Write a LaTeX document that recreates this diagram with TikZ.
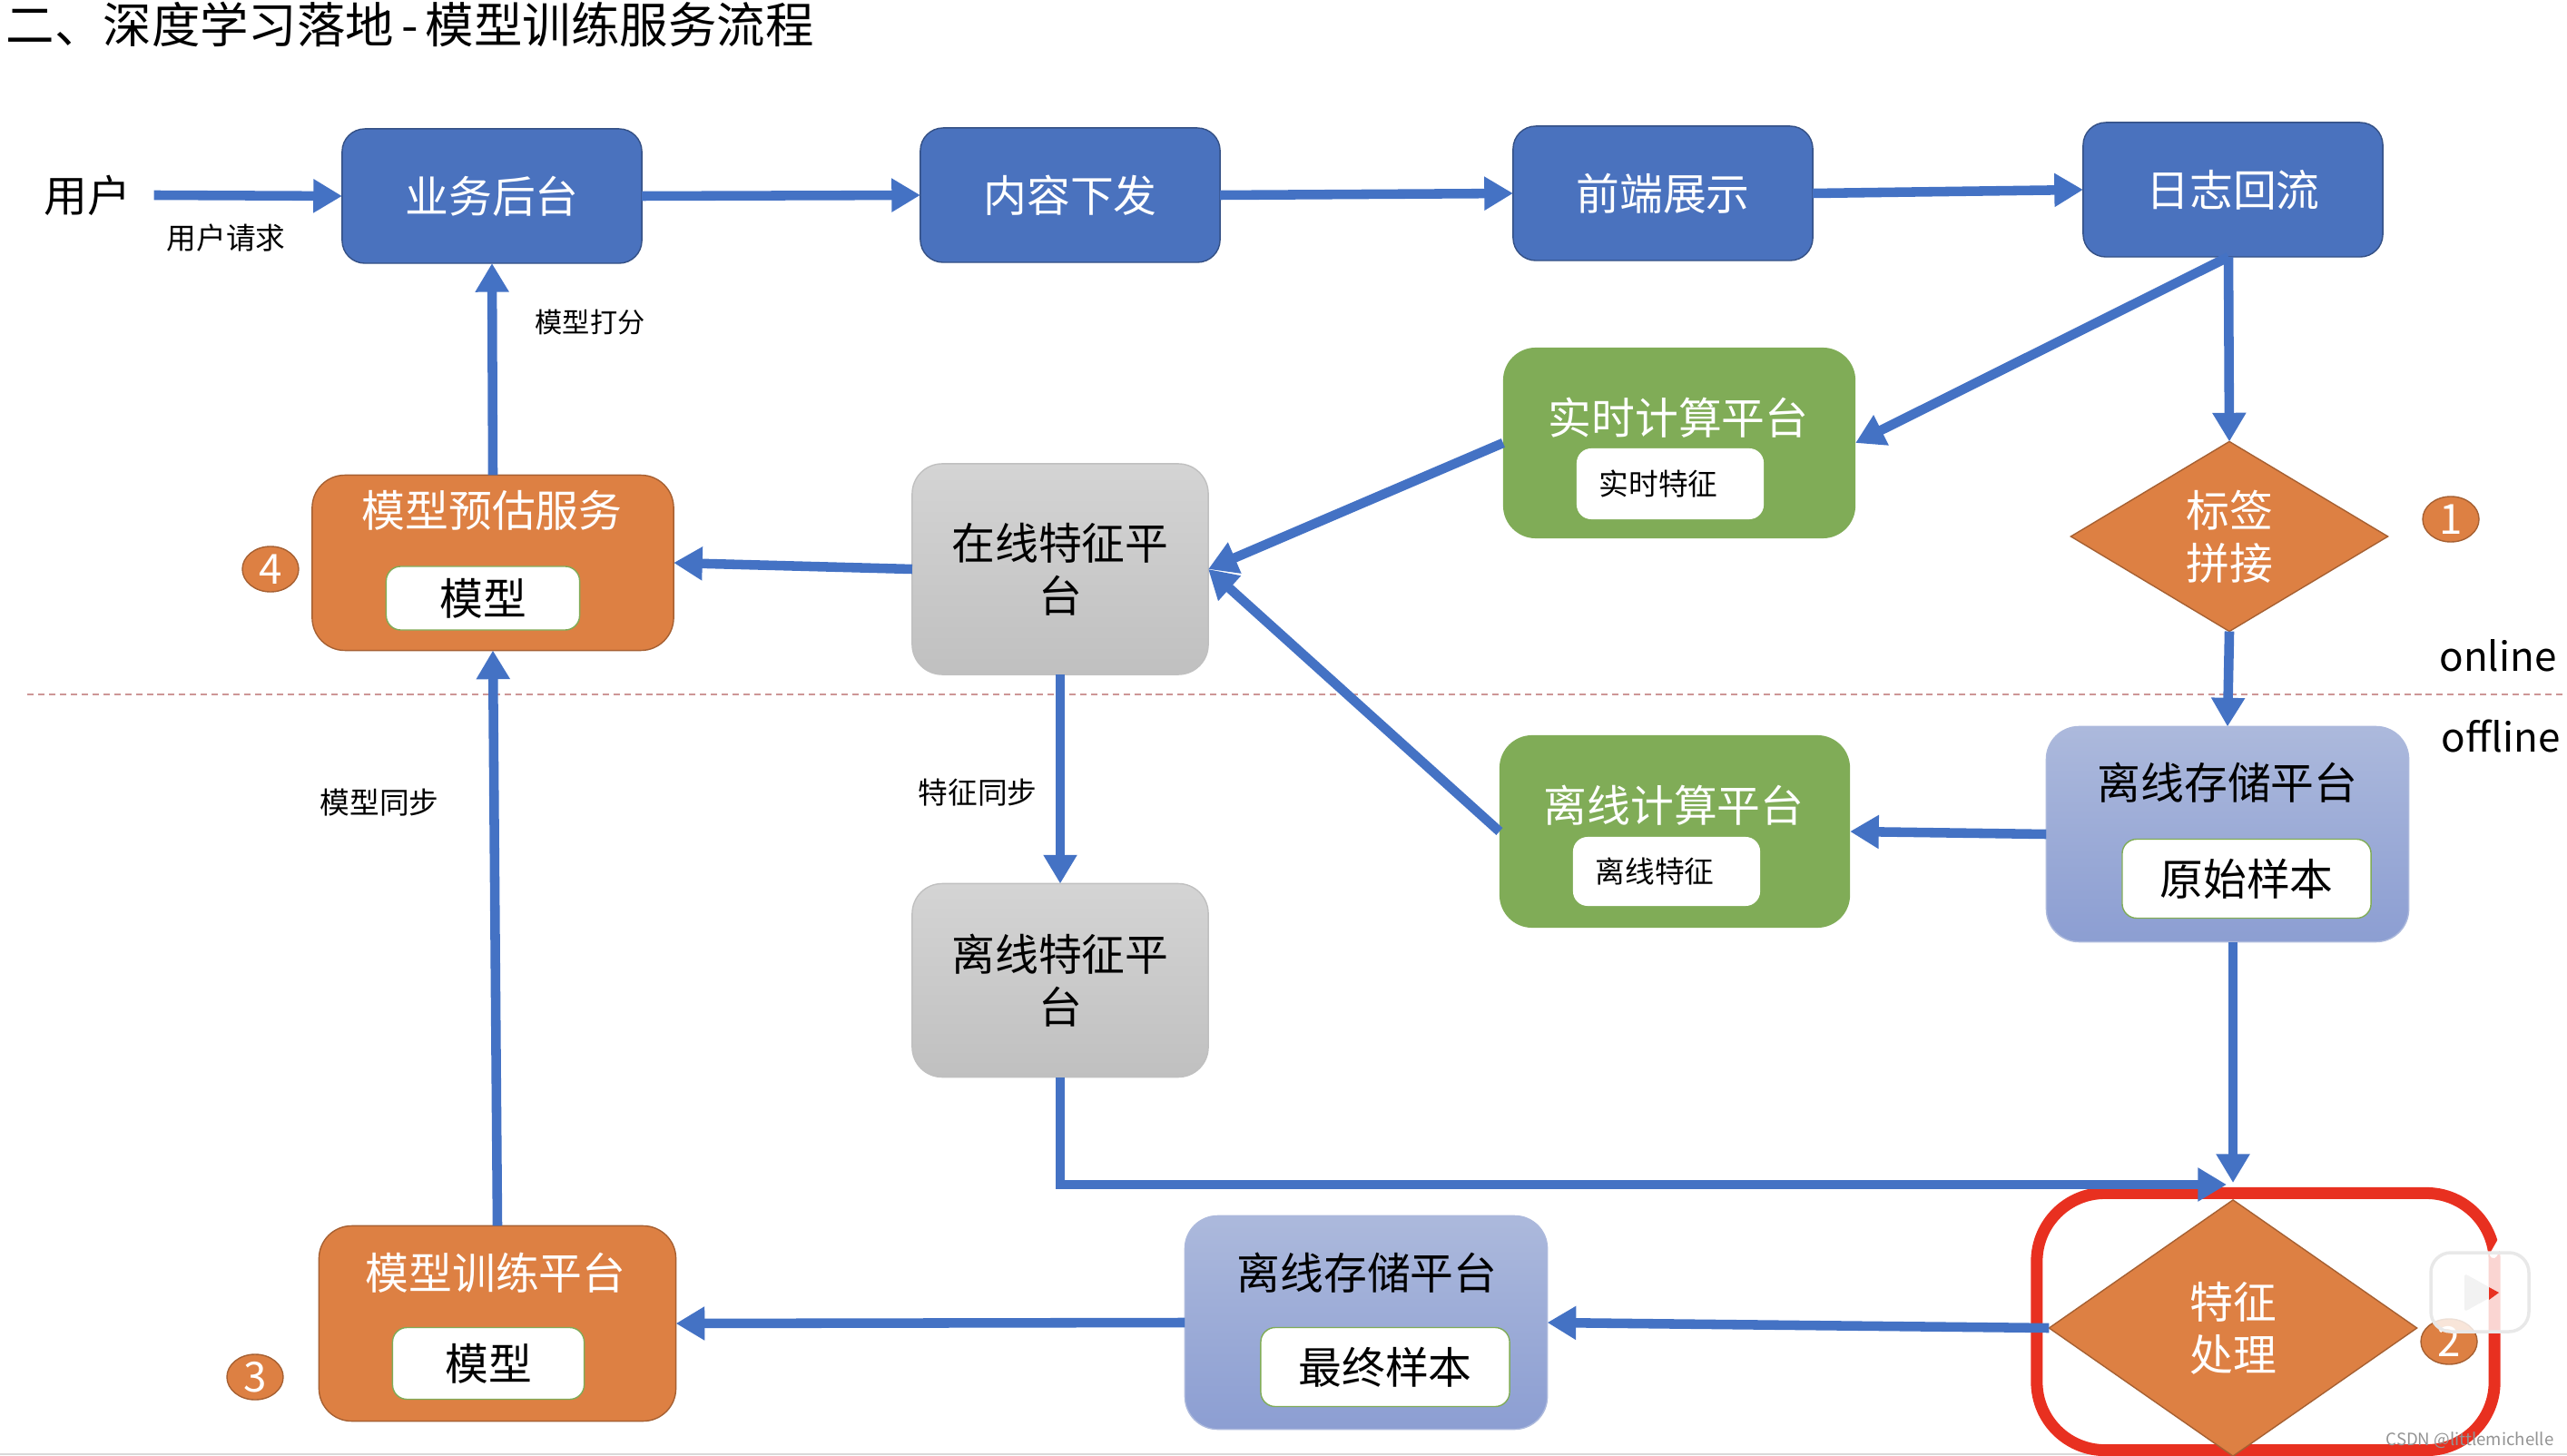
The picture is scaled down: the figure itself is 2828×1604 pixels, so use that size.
\documentclass[tikz,border=0pt]{standalone}
\usepackage{fontspec}
\setmainfont{Noto Sans CJK SC}
\usetikzlibrary{arrows.meta,shapes.geometric}
\definecolor{flowblue}{RGB}{68,114,196}
\definecolor{boxblue}{RGB}{74,114,190}
\definecolor{boxorange}{RGB}{221,128,67}
\definecolor{boxgreen}{RGB}{128,172,87}
\definecolor{paletop}{RGB}{172,185,220}
\definecolor{palebottom}{RGB}{140,158,210}
\definecolor{graytop}{RGB}{212,212,212}
\definecolor{graybottom}{RGB}{192,192,192}
\definecolor{markred}{RGB}{232,48,32}
\definecolor{sepline}{RGB}{205,150,150}
\tikzset{
  bigfont/.style={font=\fontsize{13.6}{16.5}\selectfont},
  smallfont/.style={font=\fontsize{9.3}{11}\selectfont},
  flow/.style={draw=flowblue,line width=3pt,-{Triangle[length=9pt,width=10pt]}},
  bluebox/.style={draw=boxblue!70!black,fill=boxblue,rounded corners=.25cm,text=white,bigfont,
    minimum width=3.3cm,minimum height=1.48cm,outer sep=0pt},
  greenbox/.style={fill=boxgreen,rounded corners=.36cm,outer sep=0pt},
  orangebox/.style={draw=boxorange!75!black,fill=boxorange,rounded corners=.36cm,outer sep=0pt},
  palebox/.style={draw=paletop,top color=paletop,bottom color=palebottom,rounded corners=.36cm,outer sep=0pt},
  graybox/.style={draw=graybottom,top color=graytop,bottom color=graybottom,rounded corners=.33cm,
    minimum width=3.26cm,bigfont,align=center,outer sep=0pt},
  whitebox/.style={draw=boxgreen,fill=white,rounded corners=.16cm,bigfont,outer sep=0pt},
  plainbox/.style={fill=white,rounded corners=.16cm,smallfont,outer sep=0pt},
  choice/.style={diamond,draw=boxorange!75!black,fill=boxorange,text=white,align=center,bigfont,
    inner sep=0pt,outer sep=0pt},
  badge/.style={ellipse,draw=boxorange!75!black,fill=boxorange,text=white,inner sep=0pt,
    minimum width=.62cm,minimum height=.5cm,font=\fontsize{13}{13}\selectfont},
  lightword/.style={text=white,bigfont},
  note/.style={smallfont}
}
\begin{document}
\begin{tikzpicture}[x=.01cm,y=-.01cm]
  \useasboundingbox (0,0) rectangle (2828,1604);
  \draw[gray!30,line width=.5pt] (0,1602) -- (2828,1602);
  \node[anchor=west,inner sep=0pt,font=\fontsize{15.2}{18}\selectfont] (heading) at (6,27) {二、深度学习落地\kern.08cm-\kern.08cm 模型训练服务流程};

  % top row
  \node[bigfont,inner sep=0pt,inner xsep=.25cm] (user) at (96,215) {用户};
  \node[bluebox] (yewu) at (542,216) {业务后台};
  \node[bluebox] (neirong) at (1179,215) {内容下发};
  \node[bluebox] (qianduan) at (1832,213) {前端展示};
  \node[bluebox] (rizhi) at (2460,209) {日志回流};

  % separator
  \draw[draw=sepline,line width=.7pt,dash pattern=on 2pt off 1.4pt] (30,765) coordinate (sepleft) -- (2828,765) coordinate (sepright);
  \node[font=\fontsize{12.5}{15}\selectfont] (online) at (2752,722) {online};
  \node[font=\fontsize{12.5}{15}\selectfont] (offline) at (2755,811) {offline};

  % realtime and offline compute
  \node[greenbox,minimum width=3.88cm,minimum height=2.1cm] (shishi) at (1850,488) {};
  \node[lightword] (shishititle) at (1849,460) {实时计算平台};
  \node[plainbox,minimum width=2.06cm,minimum height=.78cm] (shishifeat) at (1840,533) {实时特征\rule{.26cm}{0pt}};
  \node[greenbox,minimum width=3.86cm,minimum height=2.12cm] (lixianji) at (1845,916) {};
  \node[lightword] (lixianjititle) at (1844,887) {离线计算平台};
  \node[plainbox,minimum width=2.06cm,minimum height=.76cm] (lixianfeat) at (1836,960) {离线特征\rule{.26cm}{0pt}};

  % feature platforms
  \node[graybox,minimum height=2.32cm] (zaixian) at (1168,627) {在线特征平\\台};
  \node[graybox,minimum height=2.13cm] (lixiantz) at (1168,1080) {离线特征平\\台};

  % storage
  \node[palebox,minimum width=3.99cm,minimum height=2.37cm] (cunchu) at (2454,919) {};
  \node[bigfont] (cunchutitle) at (2454,862) {离线存储平台};
  \node[whitebox,minimum width=2.74cm,minimum height=.87cm] (yuanshi) at (2475,968) {原始样本};
  \node[palebox,minimum width=3.99cm,minimum height=2.35cm] (cunchub) at (1505,1457) {};
  \node[bigfont] (cunchubtitle) at (1506,1402) {离线存储平台};
  \node[whitebox,minimum width=2.74cm,minimum height=.87cm] (zuizhong) at (1526,1506) {最终样本};

  % model boxes
  \node[orangebox,minimum width=3.98cm,minimum height=1.93cm] (yugu) at (543,620) {};
  \node[lightword] (yugutitle) at (542,562) {模型预估服务};
  \node[whitebox,minimum width=2.13cm,minimum height=.7cm] (yugumodel) at (532,659) {模型};
  \node[orangebox,minimum width=3.93cm,minimum height=2.15cm] (xunlian) at (548,1458) {};
  \node[lightword] (xunliantitle) at (546,1402) {模型训练平台};
  \node[whitebox,minimum width=2.11cm,minimum height=.79cm] (xunlianmodel) at (538,1502) {模型};

  % decisions
  \node[choice,minimum width=3.49cm,minimum height=2.09cm] (biaoqian) at (2456,591) {标签\\拼接};
  \node[draw=markred,line width=3.7pt,rounded corners=.75cm,minimum width=5.04cm,minimum height=2.83cm,outer sep=0pt] (mark) at (2496,1456) {};
  \node[choice,minimum width=4.05cm,minimum height=2.82cm] (tezheng) at (2460,1463) {特征\\处理};
  \node[badge] (one) at (2700,572) {1};
  \node[badge] (two) at (2698,1478) {2};
  \node[badge] (three) at (281,1517) {3};
  \node[badge] (four) at (298,627) {4};

  \coordinate (rizhiout) at (2455,283);
  \coordinate (cunchuout) at (2460,1038);
  \coordinate (mergeleft) at (2453,1305);
  \coordinate (mergetop) at (2460,1303);

  % connectors
  \draw[flow] (user.east) -- (yewu.west);
  \draw[flow] (yewu.east) -- (neirong.west);
  \draw[flow] (neirong.east) -- (qianduan.west);
  \draw[flow] (qianduan.east) -- (rizhi.west);
  \draw[flow] (rizhiout) -- (biaoqian.north);
  \draw[flow] (rizhiout) -- (shishi.east);
  \draw[flow] (biaoqian.south) -- (cunchu.north);
  \draw[flow] (cunchu.west) -- (lixianji.east);
  \draw[flow] (lixianji.west) -- (zaixian.east);
  \draw[flow] (shishi.west) -- (zaixian.east);
  \draw[flow] (zaixian.west) -- (yugu.east);
  \draw[flow] (zaixian.south) -- (lixiantz.north);
  \draw[flow] (yugu.north) -- (yewu.south);
  \draw[flow] (xunlian.north) -- (yugu.south);
  \draw[flow] (lixiantz.south) |- (mergeleft);
  \draw[flow] (cunchuout) -- (mergetop);
  \draw[flow] (tezheng.west) -- (cunchub.east);
  \draw[flow] (cunchub.west) -- (xunlian.east);

  % labels
  \node[smallfont] (askword) at (249,262) {用户请求};
  \node[font=\fontsize{8.6}{11}\selectfont] (scoreword) at (650,355) {模型打分};
  \node[smallfont] (syncword) at (418,884) {模型同步};
  \node[smallfont] (featword) at (1077,873) {特征同步};

  % corner marks
  \draw[white,line width=2.3pt,line cap=round] (2708,1368) -- (2716,1382) (2755,1368) -- (2747,1382);
  \filldraw[draw=gray!18,line width=1pt,fill=white,fill opacity=.8,rounded corners=.22cm] (2678,1380) rectangle (2786,1467);
  \fill[black!5,rounded corners=.03cm] (2715,1403) -- (2753,1424) -- (2715,1445) -- cycle;
  \fill[markred] (2742,1418) -- (2753,1424) -- (2742,1432) -- cycle;
  \node[text=gray!85,anchor=east,inner sep=0pt,font=\fontsize{5.3}{7}\selectfont] (stamp) at (2814,1587) {CSDN @littlemichelle};
\end{tikzpicture}
\end{document}
